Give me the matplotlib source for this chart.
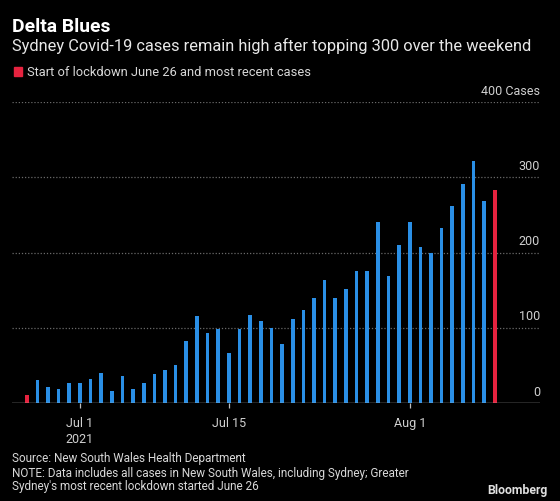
import matplotlib
matplotlib.use("Agg")
import matplotlib.pyplot as plt
import matplotlib.dates as mdates
import numpy as np
import datetime as dt

# ---- data ----
start_date = "2021-06-26"
cases = [11, 31, 21, 19, 27, 27, 32, 40, 16, 36, 18, 27, 38, 44, 51, 82,
         116, 93, 98, 66, 98, 117, 109, 100, 78, 112, 124, 140, 164, 140,
         151, 175, 176, 240, 169, 210, 240, 207, 199, 233, 262, 291, 321,
         268, 283]
highlight = [0, 44]  # start of lockdown and most recent
y_ticks = [0, 100, 200, 300, 400]
y_tick_labels = ["0", "100", "200", "300", "400 Cases"]
x_tick_dates = ["2021-07-01", "2021-07-15", "2021-08-01"]
x_tick_labels = ["Jul 1\n2021", "Jul 15", "Aug 1"]

title = "Delta Blues"
subtitle = "Sydney Covid-19 cases remain high after topping 300 over the weekend"
legend_text = "Start of lockdown June 26 and most recent cases"
source_lines = ["Source: New South Wales Health Department",
                "NOTE: Data includes all cases in New South Wales, including Sydney; Greater",
                "Sydney's most recent lockdown started June 26"]

# ---- style ----
BG = "#000000"
BLUE = "#2a8fe6"
RED = "#e6233f"
FONT = "Roboto"
W, H = 560, 502

plt.rcParams['font.family'] = [FONT, 'DejaVu Sans']

fig = plt.figure(figsize=(W / 100, H / 100), dpi=100, facecolor=BG)
renderer = fig.canvas.get_renderer()


def px(x, y):
    return x / W, 1 - y / H


def fit(t, target):
    bb = t.get_window_extent(renderer=renderer)
    t.set_fontsize(t.get_fontsize() * target / bb.width)


ax_l, ax_r, ax_t, ax_b = 12, 540, 103, 404
ax = fig.add_axes([ax_l / W, 1 - ax_b / H, (ax_r - ax_l) / W, (ax_b - ax_t) / H])
ax.set_facecolor(BG)

start = np.datetime64(start_date)
dates = np.array([start + np.timedelta64(i, 'D') for i in range(len(cases))])
dnum = mdates.date2num(dates.astype('datetime64[D]').astype(dt.datetime))
colors = [RED if i in highlight else BLUE for i in range(len(cases))]
ax.bar(dnum, cases, width=0.34, color=colors, zorder=3)

# x limits: day spacing 10.64 px, first bar at 26.7 px
px_per_day = 10.64
x0 = dnum[0] - (26.7 - ax_l) / px_per_day
x1 = dnum[0] + (ax_r - 26.7) / px_per_day
ax.set_xlim(x0, x1)
ax.set_ylim(0, 400)

for s in ax.spines.values():
    s.set_visible(False)

for v in y_ticks[1:]:
    ax.axhline(v, color="#6a6a6a", lw=0.9, ls=(0, (1, 1.5)), zorder=1)
ax.axhline(0, color="#bdbdbd", lw=1.0, zorder=4)

ax.set_yticks([])
tick_nums = [mdates.date2num(dt.datetime.strptime(d, "%Y-%m-%d")) for d in x_tick_dates]
ax.set_xticks(tick_nums)
ax.set_xticklabels(x_tick_labels, color="#d0d0d0", fontsize=9, linespacing=1.25)
ax.tick_params(axis='x', colors="#bdbdbd", length=3.5, width=0.9, pad=6,
               labelcolor="#d0d0d0")

ylabels = []
for v, lab in zip(y_ticks, y_tick_labels):
    a = ax.annotate(lab, xy=(1.0, v), xycoords=('axes fraction', 'data'),
                    xytext=(0, 8.6), textcoords='offset points',
                    ha='right', va='center', color="#d0d0d0", fontsize=9)
    ylabels.append(a)

# fit axis label sizes on "400 Cases" width
fig.canvas.draw()
bb = ylabels[-1].get_window_extent(renderer=renderer)
axis_fs = 9 * 59 / bb.width
for a in ylabels:
    a.set_fontsize(axis_fs)
for t in ax.get_xticklabels():
    t.set_fontsize(axis_fs)

# header texts
t_title = fig.text(*px(12.5, 27), title, color="white", fontsize=12,
                   fontweight='bold', ha='left', va='center')
t_sub = fig.text(*px(12.5, 46), subtitle, color="#e8e8e8", fontsize=11,
                 ha='left', va='center')
fig.patches.append(plt.Rectangle(px(14, 76.7), 8.3 / W, 8.3 / H,
                                 transform=fig.transFigure, color=RED))
t_leg = fig.text(*px(26.7, 72.5), legend_text, color="#d8d8d8", fontsize=9,
                 ha='left', va='center')

src_y = [459, 473.3, 486.6]
src_w = [234, 408, 254.6]
src_texts = []
for line, y in zip(source_lines, src_y):
    src_texts.append(fig.text(*px(12.5, y), line, color="#d8d8d8", fontsize=9,
                              ha='left', va='center'))
t_bb = fig.text(*px(547.7, 490.7), "Bloomberg", color="#e0e0e0", fontsize=9,
                fontweight='bold', ha='right', va='center')

fig.canvas.draw()
fit(t_title, 98)
fit(t_sub, 516)
fit(t_leg, 284)
src_fs = np.mean([t.get_fontsize() * w / t.get_window_extent(renderer=renderer).width
                  for t, w in zip(src_texts, src_w)])
for t in src_texts:
    t.set_fontsize(src_fs)
fit(t_bb, 60)

fig.savefig("out.png", dpi=100, facecolor=BG)
